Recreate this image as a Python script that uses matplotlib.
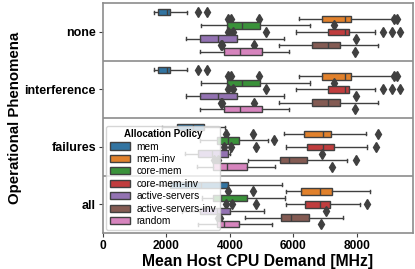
import matplotlib
matplotlib.use("Agg")
import matplotlib.pyplot as plt
from matplotlib.patches import Patch

plt.rcParams['font.family'] = ['Liberation Sans', 'DejaVu Sans']

phenomena = ["none", "interference", "failures", "all"]
policies = ["mem", "mem-inv", "core-mem", "core-mem-inv",
            "active-servers", "active-servers-inv", "random"]
colors = ["#3274a1", "#e1812c", "#3a923a", "#c03d3e",
          "#9372b2", "#845b53", "#d684bd"]

# box statistics per phenomenon, one value per policy (MHz)
whislo = {
    "none":         [1606, 6163, 3077, 6068, 2604, 5543, 3055],
    "interference": [1606, 6163, 3077, 6068, 2604, 5543, 3055],
    "failures":     [1869, 5701, 3055, 5753, 2583, 4577, 2950],
    "all":          [1300, 5753, 3108, 5753, 2500, 4472, 3002],
}
q1 = {
    "none":         [1743, 6908, 3895, 7097, 3055, 6572, 3811],
    "interference": [1743, 6908, 3895, 7097, 3055, 6572, 3811],
    "failures":     [2341, 6331, 3601, 6415, 3002, 5575, 3475],
    "all":          [2110, 6226, 3475, 6362, 3055, 5596, 3580],
}
med = {
    "none":         [2005, 7622, 4388, 7622, 3633, 7076, 4315],
    "interference": [2005, 7622, 4388, 7622, 3633, 7076, 4315],
    "failures":     [2824, 6918, 3948, 6918, 3450, 5868, 3895],
    "all":          [3100, 6835, 3706, 6835, 3580, 5921, 3822],
}
q3 = {
    "none":         [2110, 7800, 4945, 7758, 4231, 7465, 5018],
    "interference": [2110, 7800, 4945, 7758, 4231, 7465, 5018],
    "failures":     [3181, 7181, 4283, 7286, 3948, 6435, 4546],
    "all":          [3948, 7223, 4525, 7150, 4000, 6500, 4294],
}
whishi = {
    "none":         [2635, 9110, 6520, 8567, 5711, 8651, 5868],
    "interference": [2635, 9110, 6520, 8567, 5711, 8651, 5868],
    "failures":     [3843, 8273, 5187, 8305, 4000, 7695, 5417],
    "all":          [5648, 8409, 5732, 8094, 5081, 7570, 5312],
}
fliers = {
    "none": [[2982, 3265], [3948, 4022, 4924, 9180, 9260], [7286],
             [3927, 4084, 5124, 8829, 9092, 9354], [7969],
             [3717, 3760, 4745], [7937]],
    "interference": [[2982, 3265], [3948, 4022, 4924, 9180, 9260], [7286],
                     [3927, 4084, 5124, 8829, 9092, 9354], [7969],
                     [3717, 3760, 4745], [7937]],
    "failures": [[], [3874, 4714, 8651], [5396], [3811, 4022, 4819, 8598],
                 [6887], [3507, 3612, 7969], [7223]],
    "all": [[], [3948, 4714], [], [3874, 4053, 4819, 8325], [7024],
            [3612, 3696], [6866]],
}

gray = "#404040"
n = len(policies)
step = 0.8 / n

fig, ax = plt.subplots(figsize=(4.15, 2.69), dpi=100)

for i, ph in enumerate(phenomena):
    for j in range(n):
        st = [{"whislo": whislo[ph][j], "q1": q1[ph][j], "med": med[ph][j],
               "q3": q3[ph][j], "whishi": whishi[ph][j], "fliers": fliers[ph][j]}]
        pos = i + (j - (n - 1) / 2) * step
        ax.bxp(st, positions=[pos], widths=step * 0.98, vert=False,
               patch_artist=True, manage_ticks=False,
               boxprops=dict(facecolor=colors[j], edgecolor=gray, linewidth=1),
               medianprops=dict(color=gray, linewidth=1),
               whiskerprops=dict(color=gray, linewidth=1),
               capprops=dict(color=gray, linewidth=1),
               flierprops=dict(marker="d", markerfacecolor=gray,
                               markeredgecolor=gray, markersize=5))

for k in range(len(phenomena) - 1):
    ax.axhline(k + 0.5, color="#8c8c8c", linewidth=1.2)

ax.set_ylim(len(phenomena) - 0.5, -0.5)
ax.set_xlim(0, 9750)
ax.set_yticks(range(len(phenomena)))
ax.set_yticklabels(phenomena, fontsize=9.0, fontweight="bold")
ax.set_xticks([0, 2000, 4000, 6000, 8000])
ax.set_xticklabels(["0", "2000", "4000", "6000", "8000"],
                   fontsize=8.6, fontweight="bold")
ax.tick_params(length=3, color="#404040", pad=2)
for s in ax.spines.values():
    s.set_color("#8c8c8c")
    s.set_linewidth(1.2)

ax.set_xlabel("Mean Host CPU Demand [MHz]", fontsize=11.3, fontweight="bold", labelpad=1)
ax.set_ylabel("Operational Phenomena", fontsize=10.8, fontweight="bold", labelpad=2)

handles = [Patch(facecolor=c, edgecolor=gray, label=p) for c, p in zip(colors, policies)]
leg = ax.legend(handles=handles, title="Allocation Policy", loc="lower left",
                fontsize=7.3, title_fontproperties={"weight": "bold", "size": 7},
                framealpha=0.8, labelspacing=0.24, handlelength=2.0,
                handletextpad=0.6, borderaxespad=0.35, borderpad=0.35)

plt.subplots_adjust(left=0.248, right=0.994, top=0.988, bottom=0.133)
plt.savefig("out.png", dpi=100)
